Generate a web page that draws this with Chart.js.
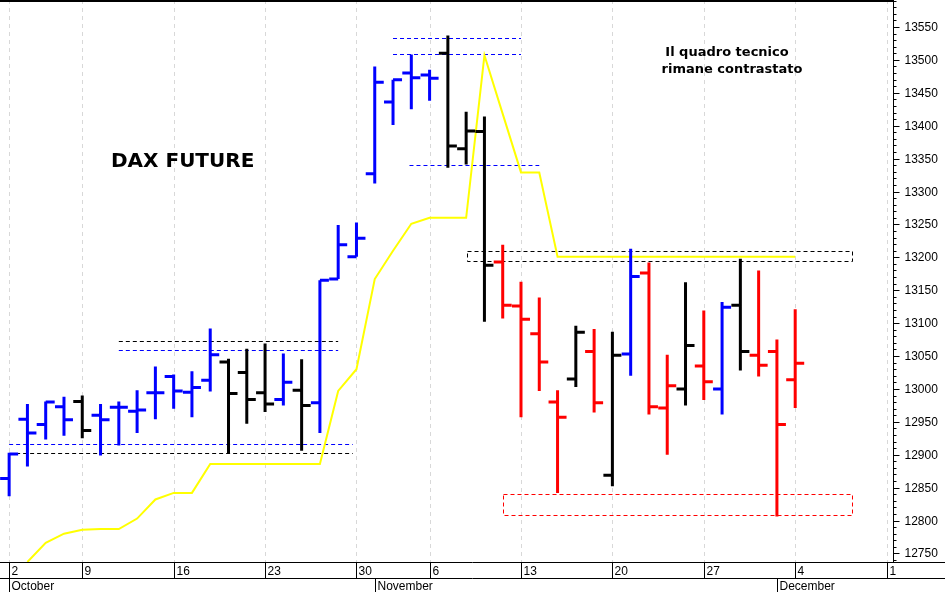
<!DOCTYPE html>
<html><head><meta charset="utf-8">
<script src="https://cdn.jsdelivr.net/npm/chart.js@4"></script>
<style>html,body{margin:0;padding:0;background:#fff}#w{width:945px;height:592px}</style>
</head><body><div id="w"><canvas id="c"></canvas></div>
<script>
// OHLC per trading day (Oct 2 .. Dec 4)
const highs  = [12903,12977,12981,12988,12990,12977,12981,12998,13034,13022,13027,13092,13046,13061,13069,13054,13045,13165,13249,13253,13490,13470,13508,13485,13537,13421,13414,13219,13163,13139,12998,13096,13091,13087,13213,13192,13052,13162,13119,13132,13198,13180,13075,13121];
const lows   = [12837,12882,12923,12929,12925,12899,12914,12933,12954,12970,12957,12996,12902,12947,12965,12975,12906,12933,13167,13201,13312,13401,13425,13438,13336,13341,13102,13107,12957,12997,12842,13003,12964,12852,13020,12961,12900,12975,12983,12961,13028,13019,12806,12971];
const opens  = [12864,12954,12946,12973,12981,12960,12972,12966,12994,13019,12995,13013,13041,13025,12994,12984,12998,12979,13167,13201,13327,13436,13480,13477,13510,13365,13391,13193,13126,13084,12980,13015,13057,12869,13053,13176,12971,13000,13035,13000,13127,13051,13057,13014];
const closes = [12901,12933,12980,12953,12937,12953,12972,12968,12994,12997,13002,13052,12993,12984,12977,13010,12975,13165,13219,13229,13466,13470,13473,13472,13369,13392,13188,13127,13106,13041,12957,13086,12979,13051,13171,12973,13005,13066,13011,13124,13057,13036,12946,13039];
const barColors = ['b','b','b','b','k','b','b','b','b','b','b','b','k','k','k','b','k','b','b','b','b','b','b','b','k','k','k','r','r','r','r','k','r','k','b','r','r','k','r','b','k','r','r','r'];
const stopLine = [null,12737,12766,12780,12786,12787,12787,12803,12832,12842,12842,12886,12886,12886,12886,12886,12886,12886,12997,13030,13167,13210,13251,13260,13260,13260,13507,13418,13329,13329,13201,13201,13201,13201,13201,13201,13201,13201,13201,13201,13201,13201,13201,13201];
const weekIdx = [0,4,9,14,19,23,28,33,38,43,48];
const weekLabels = ['2','9','16','23','30','6','13','20','27','4','1'];
const monthIdx = [0,20,42];
const monthLabels = ['October','November','December'];
// levels: [value, idxFrom, idxTo, color]
const dashLines = [[13073,6,18,'#000000'],[13059,6,18,'#0000ff'],[12916,0,18.8,'#0000ff'],[12903,0,18.8,'#000000'],
  [13534,21,28,'#0000ff'],[13509,21,28,'#0000ff'],[13341,21.9,29,'#0000ff']];
const dashRects = [[13210,13195,25.05,46.1,'#000000'],[12841,12808,27,46.1,'#ff0000']];

const COL={b:'#0000ff',k:'#000000',r:'#ff0000'};
const F='"Liberation Sans", Arial, sans-serif';

const plug={id:'ohlc',
 beforeDatasetsDraw(ch){
  const {ctx,scales:{x,y},chartArea:a}=ch;
  ctx.save();
  ctx.strokeStyle='#d8d8d8';ctx.lineWidth=1;ctx.setLineDash([4,4]);
  weekIdx.forEach(i=>{const px=Math.round(x.getPixelForValue(i))+0.5;ctx.beginPath();ctx.moveTo(px,a.top);ctx.lineTo(px,a.bottom);ctx.stroke();});
  ctx.setLineDash([4,3]);
  dashLines.forEach(([v,i0,i1,c])=>{ctx.strokeStyle=c;const py=Math.round(y.getPixelForValue(v))+0.5;ctx.beginPath();ctx.moveTo(x.getPixelForValue(i0),py);ctx.lineTo(x.getPixelForValue(i1),py);ctx.stroke();});
  dashRects.forEach(([v1,v2,i0,i1,c])=>{ctx.strokeStyle=c;const p1=Math.round(y.getPixelForValue(v1))+0.5,p2=Math.round(y.getPixelForValue(v2))+0.5;const x0=Math.round(x.getPixelForValue(i0))+0.5,x1=Math.round(x.getPixelForValue(i1))+0.5;ctx.strokeRect(x0,p1,x1-x0,p2-p1);});
  ctx.restore();
 },
 afterDatasetsDraw(ch){
  const {ctx,scales:{x,y}}=ch;
  ctx.save();ctx.lineWidth=3;ctx.lineCap='butt';
  highs.forEach((h,i)=>{
   const px=x.getPixelForValue(i);ctx.strokeStyle=COL[barColors[i]];
   ctx.beginPath();ctx.moveTo(px,y.getPixelForValue(h));ctx.lineTo(px,y.getPixelForValue(lows[i]));
   const po=y.getPixelForValue(opens[i]),pc=y.getPixelForValue(closes[i]);
   ctx.moveTo(px-9,po);ctx.lineTo(px,po);ctx.moveTo(px,pc);ctx.lineTo(px+9,pc);ctx.stroke();
  });
  ctx.restore();
 },
 afterDraw(ch){
  const {ctx,scales:{x,y},chartArea:a}=ch;
  ctx.save();
  ctx.strokeStyle='#000';
  ctx.lineWidth=2;ctx.beginPath();ctx.moveTo(0,1);ctx.lineTo(a.right,1);ctx.stroke();
  ctx.lineWidth=1;
  const rx=Math.round(a.right)+0.5;
  ctx.beginPath();ctx.moveTo(rx,0);ctx.lineTo(rx,a.bottom);ctx.stroke();
  ctx.fillStyle='#000';ctx.font='12px '+F;ctx.textBaseline='middle';ctx.textAlign='left';
  for(let v=12740;v<=13590;v+=10){const py=Math.round(y.getPixelForValue(v))+0.5;if(py<a.top||py>a.bottom)continue;
   const maj=v%50===0;ctx.beginPath();ctx.moveTo(rx,py);ctx.lineTo(rx+(maj?6:3),py);ctx.stroke();
   if(maj)ctx.fillText(String(v),rx+11,py);}
  const b=Math.round(a.bottom)+0.5, r2=b+16;
  ctx.beginPath();ctx.moveTo(0,b);ctx.lineTo(945,b);ctx.moveTo(0,r2);ctx.lineTo(945,r2);ctx.stroke();
  weekIdx.forEach((i,k)=>{const px=Math.round(x.getPixelForValue(i))+0.5;ctx.beginPath();ctx.moveTo(px,b);ctx.lineTo(px,r2);ctx.stroke();ctx.fillText(weekLabels[k],px+2,b+9);});
  monthIdx.forEach((i,k)=>{const px=Math.round(x.getPixelForValue(i))+0.5;ctx.beginPath();ctx.moveTo(px,r2);ctx.lineTo(px,592);ctx.stroke();ctx.fillText(monthLabels[k],px+2,r2+8);});
  ctx.font='bold 20px "DejaVu Sans", sans-serif';ctx.fillText('DAX FUTURE',111,162);
  ctx.font='bold 13px "DejaVu Sans", sans-serif';ctx.textAlign='center';
  ctx.fillText('Il quadro tecnico',727,53);ctx.fillText('rimane contrastato',732,70);
  ctx.restore();
 }};

new Chart(document.getElementById('c'),{
 type:'line',
 data:{labels:stopLine.map((_,i)=>i),datasets:[{data:stopLine.map((v,i)=>({x:i,y:v})),borderColor:'#ffff00',borderWidth:2,pointRadius:0,tension:0,spanGaps:true}]},
 options:{responsive:true,maintainAspectRatio:false,animation:false,
  layout:{padding:0},
  plugins:{legend:{display:false},tooltip:{enabled:false}},
  scales:{
   x:{type:'linear',min:-0.5,max:48.35,display:true,grid:{display:false},border:{display:false},ticks:{display:false},afterFit(s){s.height=30;}},
   y:{position:'right',min:12737,max:13591,grid:{display:false},border:{display:false},ticks:{display:false},afterFit(s){s.width=52;}}
  }},
 plugins:[plug]
});
</script></body></html>
